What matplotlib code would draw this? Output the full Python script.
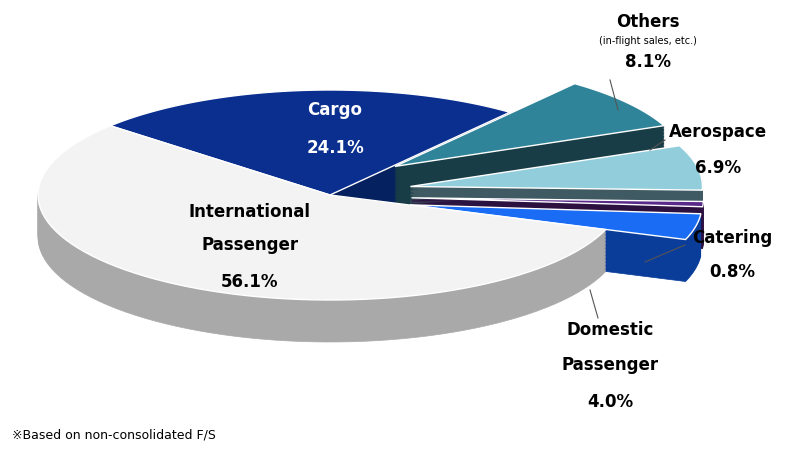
import numpy as np
import matplotlib
matplotlib.use("Agg")
import matplotlib.pyplot as plt
from matplotlib.patches import Polygon

labels = ["Cargo", "International\nPassenger", "Domestic\nPassenger", "Catering", "Aerospace", "Others"]
values = [24.1, 56.1, 4.0, 0.8, 6.9, 8.1]
explode = [0.0, 0.0, 0.28, 0.28, 0.28, 0.28]
top_colors = ["#0b2f8f", "#f3f3f3", "#1a6cf5", "#5a2a8a", "#92cddc", "#2f8499"]
side_colors = ["#06215f", "#a9a9a9", "#0a3c9a", "#2b1040", "#3f5a62", "#183d47"]

fig = plt.figure(figsize=(8, 4.49), dpi=100)
ax = fig.add_axes([0, 0, 1, 1])
ax.set_xlim(0, 800); ax.set_ylim(449, 0); ax.axis("off")

cx, cy, rx, ry, depth = 330, 195, 292, 105, 42
start = 52.0
angles = []
a = start
for v in values:
    span = v / 100 * 360
    angles.append((a, a + span)); a += span

def face(t0, t1, ox, oy, dz):
    t = np.radians(np.linspace(t0, t1, 80))
    xs = np.concatenate([[cx + ox], cx + ox + rx * np.cos(t)])
    ys = np.concatenate([[cy + oy + dz], cy + oy + dz - ry * np.sin(t)])
    return np.column_stack([xs, ys])

order = sorted(range(len(values)), key=lambda i: -np.sin(np.radians(sum(angles[i]) / 2)))
for i in order:
    t0, t1 = angles[i]
    mid = np.radians((t0 + t1) / 2)
    ox = explode[i] * rx * np.cos(mid)
    oy = -explode[i] * ry * np.sin(mid) * 1.6
    for dz in np.linspace(depth, 1, 30):
        c = side_colors[i]
        ax.add_patch(Polygon(face(t0, t1, ox, oy, dz), closed=True, fc=c, ec=c, lw=0.5))
    ax.add_patch(Polygon(face(t0, t1, ox, oy, 0), closed=True, fc=top_colors[i], ec="white", lw=1))

fs = 12
ax.text(335, 110, "Cargo", color="white", fontsize=fs, fontweight="bold", ha="center", va="center")
ax.text(335, 148, "24.1%", color="white", fontsize=fs, fontweight="bold", ha="center", va="center")
ax.text(250, 212, "International", fontsize=fs, fontweight="bold", ha="center", va="center")
ax.text(250, 245, "Passenger", fontsize=fs, fontweight="bold", ha="center", va="center")
ax.text(250, 282, "56.1%", fontsize=fs, fontweight="bold", ha="center", va="center")
ax.text(648, 22, "Others", fontsize=fs, fontweight="bold", ha="center", va="center")
ax.text(648, 41, "(in-flight sales, etc.)", fontsize=7, ha="center", va="center")
ax.text(648, 62, "8.1%", fontsize=fs, fontweight="bold", ha="center", va="center")
ax.text(718, 132, "Aerospace", fontsize=fs, fontweight="bold", ha="center", va="center")
ax.text(718, 168, "6.9%", fontsize=fs, fontweight="bold", ha="center", va="center")
ax.text(732, 238, "Catering", fontsize=fs, fontweight="bold", ha="center", va="center")
ax.text(732, 272, "0.8%", fontsize=fs, fontweight="bold", ha="center", va="center")
ax.text(610, 330, "Domestic", fontsize=fs, fontweight="bold", ha="center", va="center")
ax.text(610, 365, "Passenger", fontsize=fs, fontweight="bold", ha="center", va="center")
ax.text(610, 402, "4.0%", fontsize=fs, fontweight="bold", ha="center", va="center")
ax.plot([618, 610], [110, 80], color="#555", lw=0.8)
ax.plot([650, 665], [150, 140], color="#555", lw=0.8)
ax.plot([645, 685], [262, 245], color="#555", lw=0.8)
ax.plot([590, 598], [290, 318], color="#555", lw=0.8)
ax.text(12, 435, "※Based on non-consolidated F/S", fontsize=9, ha="left", va="center",
        family=["DejaVu Sans", "Noto Sans CJK JP"])
fig.savefig("out.png", dpi=100)
